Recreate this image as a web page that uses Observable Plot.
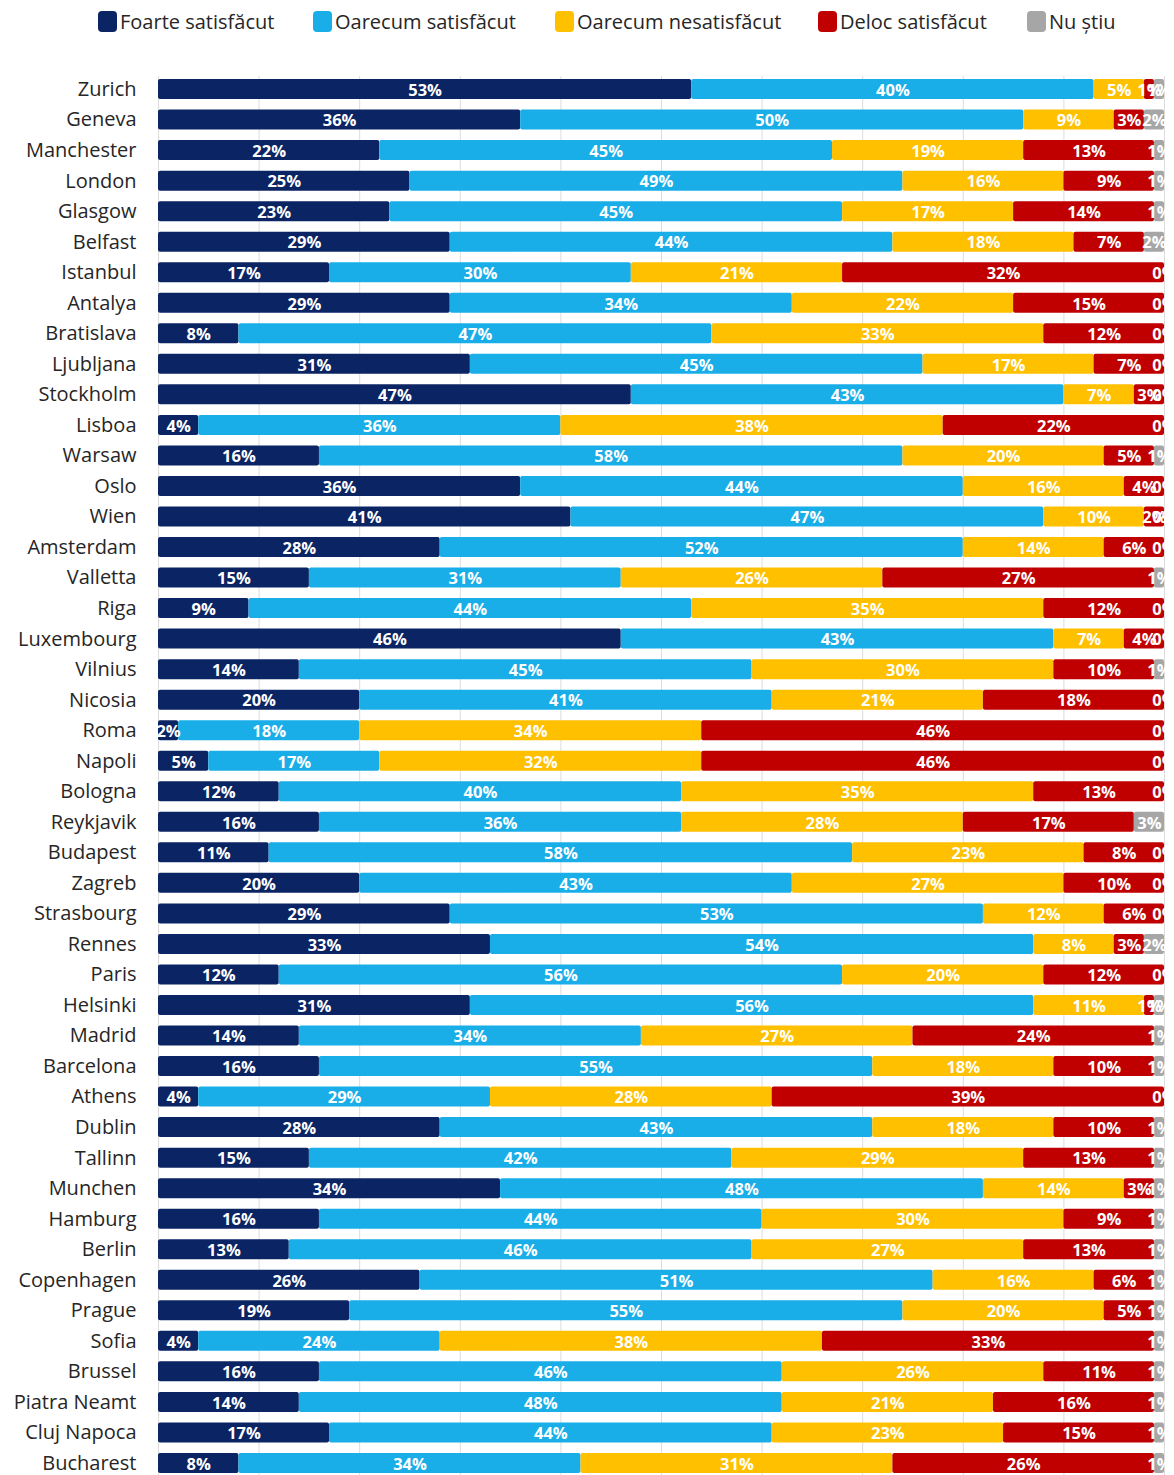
<!DOCTYPE html>
<html>
<head>
<meta charset="utf-8">
<script src="https://cdn.jsdelivr.net/npm/d3@7"></script>
<script src="https://cdn.jsdelivr.net/npm/@observablehq/plot@0.6"></script>
<style>
  html, body { margin: 0; padding: 0; background: #fff; overflow: hidden; }
  #legend { position: relative; height: 50px; font-family: "Open Sans", sans-serif; font-size: 20px; color: #262626; }
  .item { position: absolute; top: 8px; display: flex; align-items: center; white-space: nowrap; }
  .sw { width: 19px; height: 21px; border-radius: 4px; margin-right: 3px; }
  #chart svg { display: block; }
</style>
</head>
<body>
<div id="legend"></div>
<div id="chart"></div>
<script>
const categories = ["Foarte satisfăcut", "Oarecum satisfăcut", "Oarecum nesatisfăcut", "Deloc satisfăcut", "Nu știu"];
const colors = ["#0b2463", "#19aee8", "#ffc000", "#c00000", "#a6a6a6"];

const cities = ["Zurich","Geneva","Manchester","London","Glasgow","Belfast","Istanbul","Antalya","Bratislava","Ljubljana","Stockholm","Lisboa","Warsaw","Oslo","Wien","Amsterdam","Valletta","Riga","Luxembourg","Vilnius","Nicosia","Roma","Napoli","Bologna","Reykjavik","Budapest","Zagreb","Strasbourg","Rennes","Paris","Helsinki","Madrid","Barcelona","Athens","Dublin","Tallinn","Munchen","Hamburg","Berlin","Copenhagen","Prague","Sofia","Brussel","Piatra Neamt","Cluj Napoca","Bucharest"];

const foarteSatisfacut = [53,36,22,25,23,29,17,29,8,31,47,4,16,36,41,28,15,9,46,14,20,2,5,12,16,11,20,29,33,12,31,14,16,4,28,15,34,16,13,26,19,4,16,14,17,8];
const oarecumSatisfacut = [40,50,45,49,45,44,30,34,47,45,43,36,58,44,47,52,31,44,43,45,41,18,17,40,36,58,43,53,54,56,56,34,55,29,43,42,48,44,46,51,55,24,46,48,44,34];
const oarecumNesatisfacut = [5,9,19,16,17,18,21,22,33,17,7,38,20,16,10,14,26,35,7,30,21,34,32,35,28,23,27,12,8,20,11,27,18,28,18,29,14,30,27,16,20,38,26,21,23,31];
const delocSatisfacut = [1,3,13,9,14,7,32,15,12,7,3,22,5,4,2,6,27,12,4,10,18,46,46,13,17,8,10,6,3,12,1,24,10,39,10,13,3,9,13,6,5,33,11,16,15,26];
const nuStiu = [1,2,1,1,1,2,0,0,0,0,0,0,1,0,0,0,1,0,0,1,0,0,0,0,3,0,0,0,2,0,1,1,1,0,1,1,1,1,1,1,1,1,1,1,1,1];

const tickValues = [0,10,20,30,40,50,60,70,80,90,100];

const series = [foarteSatisfacut, oarecumSatisfacut, oarecumNesatisfacut, delocSatisfacut, nuStiu];
const data = cities.flatMap((city, i) => series.map((s, k) => ({city, cat: categories[k], value: s[i]})));

// legend
const legendLeft = [98, 313, 555, 818, 1027];
const legend = document.getElementById("legend");
categories.forEach((c, k) => {
  const it = document.createElement("div");
  it.className = "item";
  it.style.left = legendLeft[k] + "px";
  const sw = document.createElement("div");
  sw.className = "sw";
  sw.style.background = colors[k];
  const tx = document.createElement("span");
  tx.textContent = c;
  it.appendChild(sw); it.appendChild(tx);
  legend.appendChild(it);
});

const chart = Plot.plot({
  width: 1174,
  height: 1426,
  marginTop: 26,
  marginBottom: 0,
  marginLeft: 158,
  marginRight: 10,
  style: {fontFamily: "Open Sans, sans-serif", background: "#fff"},
  x: {domain: [0, 100], axis: null},
  y: {domain: cities, paddingInner: 0.345, paddingOuter: 0.1, round: false, label: null},
  color: {domain: categories, range: colors},
  marks: [
    Plot.ruleX(tickValues, {stroke: "#dcdcdc", strokeWidth: 1}),
    Plot.barX(data, Plot.stackX({x: "value", y: "city", fill: "cat", order: categories, rx: 2})),
    Plot.textX(data, Plot.stackX({x: "value", y: "city", z: "cat", order: categories,
      text: d => d.value + "%", fill: "white", fontWeight: "bold", fontSize: 16.5, dy: 1})),
    Plot.axisY({tickSize: 0, tickPadding: 22, fontSize: 20, color: "#262626", label: null})
  ]
});
document.getElementById("chart").appendChild(chart);
</script>
</body>
</html>
